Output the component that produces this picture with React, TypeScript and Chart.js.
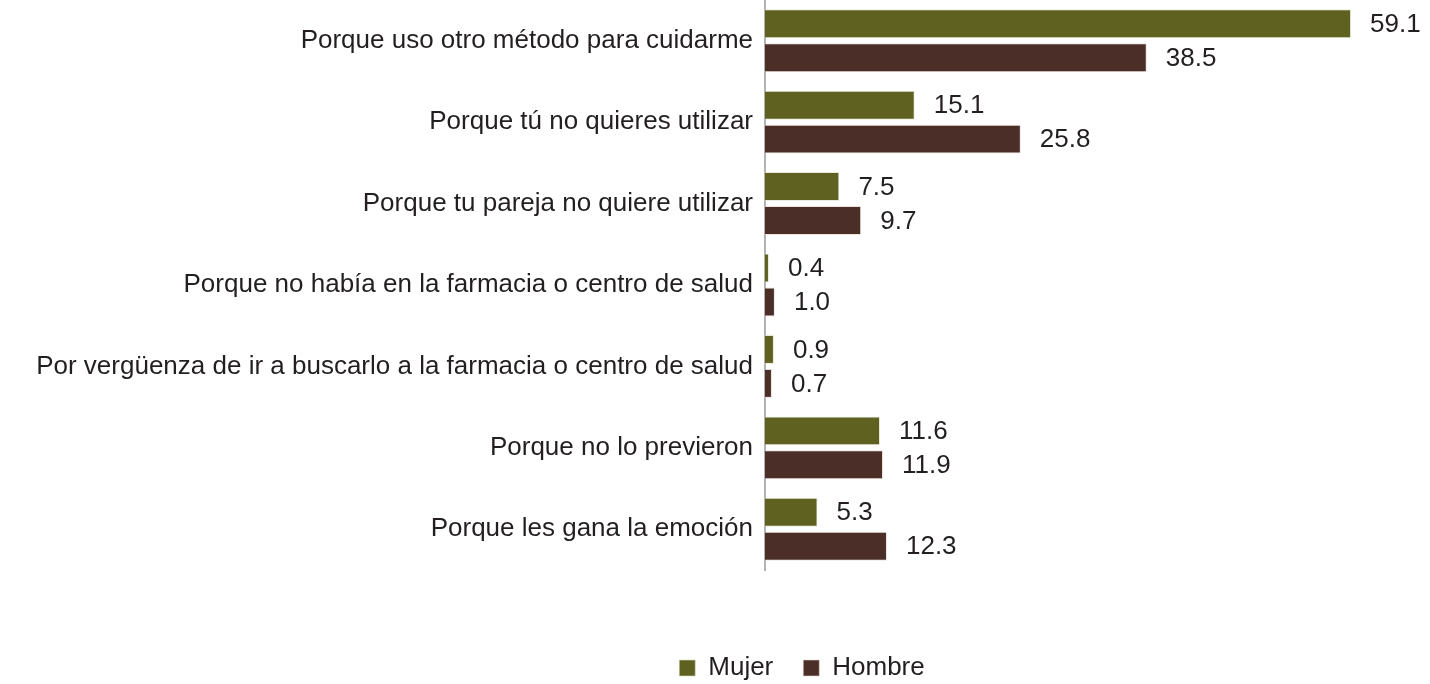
import React, { useEffect, useRef } from "react";
import { Chart, registerables } from "chart.js";

Chart.register(...registerables);

const categories = [
  "Porque uso otro método para cuidarme",
  "Porque tú no quieres utilizar",
  "Porque tu pareja no quiere utilizar",
  "Porque no había en la farmacia o centro de salud",
  "Por vergüenza de ir a buscarlo a la farmacia o centro de salud",
  "Porque no lo previeron",
  "Porque les gana la emoción",
];
const mujer = [59.1, 15.1, 7.5, 0.4, 0.9, 11.6, 5.3];
const hombre = [38.5, 25.8, 9.7, 1.0, 0.7, 11.9, 12.3];
const seriesNames = ["Mujer", "Hombre"];
const colors = ["#5E6120", "#4A2E27"];

const FONT = "'Liberation Sans', Arial, sans-serif";
const TEXT = "#231F20";
const SIZE = 26;

const valueLabels = {
  id: "valueLabels",
  afterDatasetsDraw(chart: any) {
    const ctx = chart.ctx;
    ctx.save();
    ctx.font = `${SIZE}px ${FONT}`;
    ctx.fillStyle = TEXT;
    ctx.textAlign = "left";
    ctx.textBaseline = "middle";
    chart.data.datasets.forEach((ds: any, i: number) => {
      const meta = chart.getDatasetMeta(i);
      meta.data.forEach((bar: any, j: number) => {
        const v = ds.data[j];
        ctx.fillText(v.toFixed(1), bar.x + 19, bar.y + 1);
      });
    });
    ctx.restore();
  },
};

const legendShift = {
  id: "legendShift",
  afterLayout(chart: any) {
    const lg = chart.legend;
    if (!lg) return;
    lg.left += 122;
    lg.right += 122;
    lg.top += 7;
    lg.bottom += 7;
  },
};

export default function App() {
  const ref = useRef<HTMLCanvasElement | null>(null);
  useEffect(() => {
    document.body.style.margin = "0";
    const chart = new Chart(ref.current as HTMLCanvasElement, {
      type: "bar",
      data: {
        labels: categories,
        datasets: [
          {
            label: seriesNames[0],
            data: mujer,
            backgroundColor: colors[0],
            borderColor: "rgba(220,220,200,0.6)",
            borderWidth: 1,
            categoryPercentage: 0.834,
            barPercentage: 0.853,
          },
          {
            label: seriesNames[1],
            data: hombre,
            backgroundColor: colors[1],
            borderColor: "rgba(220,210,200,0.6)",
            borderWidth: 1,
            categoryPercentage: 0.834,
            barPercentage: 0.853,
          },
        ],
      },
      options: {
        indexAxis: "y",
        animation: false,
        responsive: false,
        layout: { padding: { left: 0, right: 70, top: 0, bottom: 0 } },
        scales: {
          x: {
            min: 0,
            max: 60,
            display: true,
            grid: { display: false, drawTicks: false },
            border: { display: false },
            ticks: { display: false },
            afterFit(scale: any) {
              scale.height = 48;
            },
          },
          y: {
            grid: { display: false, drawTicks: false },
            border: { display: true, color: "#B3B3B3", width: 2 },
            ticks: {
              font: { family: FONT, size: SIZE },
              color: TEXT,
              padding: 12,
            },
            afterFit(scale: any) {
              scale.width = 765;
              scale.paddingTop = 0;
              scale.paddingBottom = 0;
            },
          },
        },
        plugins: {
          legend: {
            display: true,
            position: "bottom",
            labels: {
              font: { family: FONT, size: SIZE },
              color: TEXT,
              boxWidth: 16,
              boxHeight: 16,
              padding: 30,
            },
          },
          tooltip: { enabled: false },
        },
      },
      plugins: [valueLabels, legendShift],
    });
    return () => chart.destroy();
  }, []);
  return (
    <div style={{ width: 1430, height: 684 }}>
      <canvas ref={ref} width={1430} height={684} style={{ display: "block" }} />
    </div>
  );
}
